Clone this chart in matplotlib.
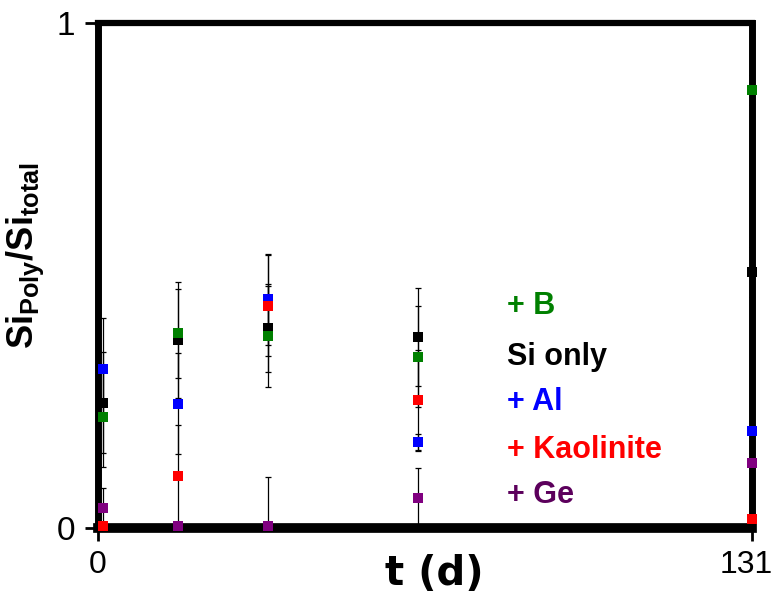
"""
Fraction of polymerised silicon over time for each additive
"""
import matplotlib
matplotlib.use("Agg")
import matplotlib.pyplot as plt
import matplotlib.transforms as mtransforms

plt.rcParams['font.family'] = ['Liberation Sans', 'DejaVu Sans']
plt.rcParams['mathtext.fontset'] = 'custom'
plt.rcParams['mathtext.rm'] = 'Liberation Sans'
plt.rcParams['mathtext.bf'] = 'Liberation Sans:bold'

# Sampling days
days = [1, 16, 34, 64, 131]

# Si_poly / Si_total per series
si_only = [0.248, 0.372, 0.396, 0.378, 0.507]
si_al = [0.315, 0.246, 0.453, 0.170, 0.192]
si_kaolinite = [0.004, 0.103, 0.440, 0.253, 0.018]
si_b = [0.220, 0.386, 0.380, 0.339, 0.867]
si_ge = [0.040, 0.004, 0.004, 0.059, 0.129]

# Standard deviations
err_only = [0.100, 0.115, 0.088, 0.097, 0.050]
err_al = [0.100, 0.100, 0.090, 0.016, 0.020]
err_kaolinite = [0.004, 0.100, 0.100, 0.100, 0.020]
err_b = [0.100, 0.088, 0.100, 0.100, 0.030]
err_ge = [0.040, 0.004, 0.096, 0.059, 0.020]

series = [
    ("Si only", si_only, err_only, "black", "black"),
    ("+ Al", si_al, err_al, "#0000ff", "#0000ff"),
    ("+ Kaolinite", si_kaolinite, err_kaolinite, "#ff0000", "#ff0000"),
    ("+ B", si_b, err_b, "#008000", "#008000"),
    ("+ Ge", si_ge, err_ge, "#800080", "#5c005c"),
]

# Label order (top to bottom) and baselines in axes coordinates
label_order = ["+ B", "Si only", "+ Al", "+ Kaolinite", "+ Ge"]
label_y = [0.424, 0.323, 0.234, 0.139, 0.050]

fig = plt.figure(figsize=(7.78, 5.96), dpi=100)
ax = fig.add_axes([0.126, 0.1141, 0.8406, 0.8473])

for name, vals, errs, color, _ in series:
    ax.errorbar(days, vals, yerr=errs, fmt='none', ecolor='black',
                elinewidth=0.9, capsize=2.5, capthick=0.9, zorder=2)
for name, vals, errs, color, _ in series:
    ax.plot(days, vals, linestyle='none', marker='s', markersize=7.3,
            color=color, markeredgewidth=0, clip_on=False, zorder=4)

text_colors = {s[0]: s[4] for s in series}
for name, y in zip(label_order, label_y):
    ax.text(0.625, y, name, transform=ax.transAxes, color=text_colors[name],
            fontsize=22, fontweight='bold', va='baseline', ha='left')

ax.set_xlim(0, 131)
ax.set_ylim(0, 1)
ax.set_xticks([0, 131])
ax.set_yticks([0, 1])
ax.tick_params(axis='both', direction='out', length=9.5, width=2,
               pad=7, labelsize=24)
ax.tick_params(axis='x', pad=6, labelsize=23)

# nudge the last x tick label inwards so it stays inside the figure
last = ax.get_xticklabels()[-1]
last.set_transform(last.get_transform() +
                   mtransforms.ScaledTranslation(-4 / 72, 0, fig.dpi_scale_trans))

for side, lw in [('top', 4.5), ('left', 5), ('right', 5), ('bottom', 7)]:
    ax.spines[side].set_linewidth(lw)

ax.set_xlabel("t (d)", fontsize=29, fontweight='bold', family='DejaVu Sans')
ax.xaxis.label.set_va('center')
ax.xaxis.set_label_coords(0.514, -0.091)
ax.set_ylabel(r'$\mathbf{Si_{Poly}/Si_{total}}$', fontsize=26)
ax.yaxis.set_label_coords(-0.08, 0.539)

plt.savefig('out.png', dpi=100)
plt.close()
